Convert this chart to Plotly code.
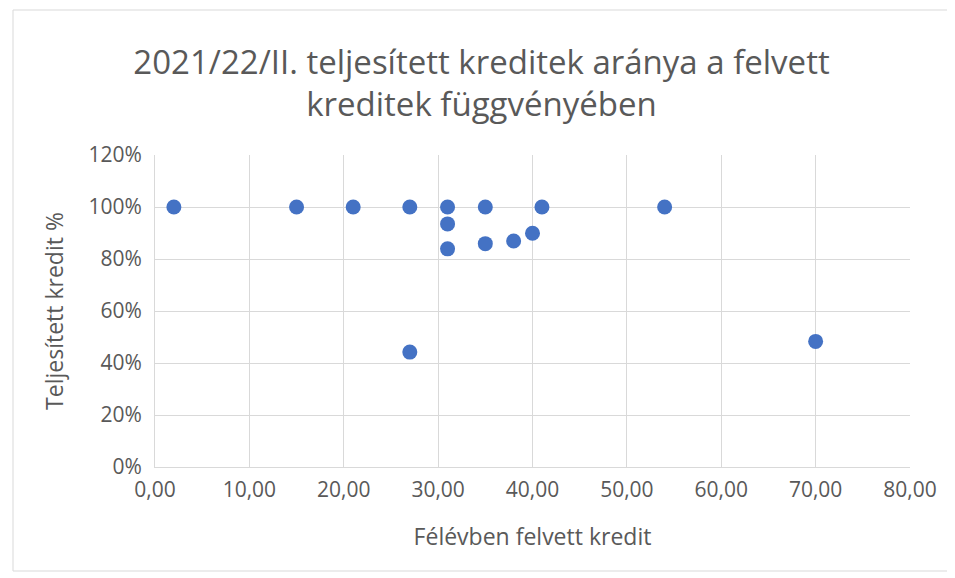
import plotly.graph_objects as go

# felvett kredit (x) and teljesített arány (y)
felvett = [2, 15, 21, 27, 27, 31, 31, 31, 35, 35, 38, 40, 41, 54, 70]
teljesitett = [1.00, 1.00, 1.00, 1.00, 0.442, 1.00, 0.935, 0.839, 1.00, 0.859, 0.869, 0.899, 1.00, 1.00, 0.483]

font_family = "'Open Sans', sans-serif"
grid_color = "#D9D9D9"
text_color = "#595959"

fig = go.Figure(go.Scatter(
    x=felvett, y=teljesitett, mode="markers",
    marker=dict(size=15, color="#4472C4"),
))

# page body has an 8px default margin, so the figure is shrunk by that much
fig.update_layout(
    width=947, height=570,
    paper_bgcolor="white", plot_bgcolor="white",
    margin=dict(l=147, r=45, t=147, b=111),
    separators=", ",
    font=dict(family=font_family, color=text_color),
    title=dict(text="2021/22/II. teljesített kreditek aránya a felvett<br>kreditek függvényében",
               x=0.5, xanchor="center", y=0.885, yanchor="middle",
               font=dict(size=33, color=text_color)),
    showlegend=False,
    xaxis=dict(range=[0, 80], dtick=10, tickformat=".2f",
               showgrid=True, gridcolor=grid_color, gridwidth=1,
               zeroline=False, showline=True, linecolor=grid_color,
               tickfont=dict(size=21), ticks="outside", ticklen=4, tickcolor="white",
               title=dict(text="Félévben felvett kredit", font=dict(size=23), standoff=26)),
    yaxis=dict(range=[0, 1.2], dtick=0.2, tickformat=".0%",
               showgrid=True, gridcolor=grid_color, gridwidth=1,
               zeroline=False, showline=True, linecolor=grid_color, mirror=False,
               tickfont=dict(size=21), ticks="outside", ticklen=8, tickcolor="white",
               title=dict(text="Teljesített kredit %", font=dict(size=23), standoff=18)),
    shapes=[dict(type="rect", xref="paper", yref="paper",
                 x0=-142/755, x1=1 + 40/755, y0=-104/312, y1=1 + 145/312,
                 line=dict(color=grid_color, width=1))],
)

fig.write_html("out.html")
